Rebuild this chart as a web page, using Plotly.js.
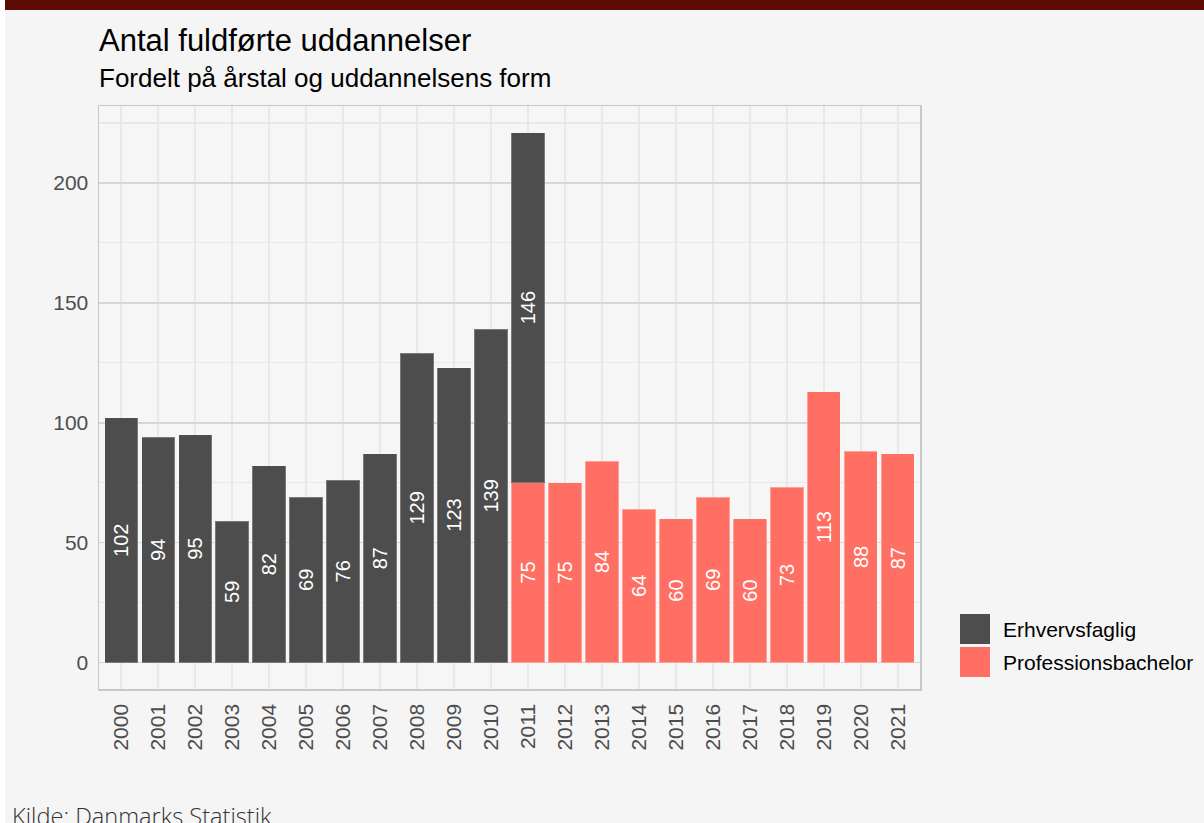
<!DOCTYPE html>
<html>
<head>
<meta charset="utf-8">
<script src="https://cdn.plot.ly/plotly-3.0.1.min.js"></script>
<style>
html,body{margin:0;padding:0;background:#ffffff;}
#chart{position:absolute;left:5px;top:0;width:1199px;height:823px;}
</style>
</head>
<body>
<div id="chart"></div>
<script>
const years = ['2000','2001','2002','2003','2004','2005','2006','2007','2008','2009','2010','2011','2012','2013','2014','2015','2016','2017','2018','2019','2020','2021'];
const erhvYears = ['2000','2001','2002','2003','2004','2005','2006','2007','2008','2009','2010','2011'];
const erhvValues = [102,94,95,59,82,69,76,87,129,123,139,146];
const profYears = ['2011','2012','2013','2014','2015','2016','2017','2018','2019','2020','2021'];
const profValues = [75,75,84,64,60,69,60,73,113,88,87];
const seriesNames = ['Erhvervsfaglig','Professionsbachelor'];
const seriesColors = ['#4d4d4d','#FF6F63'];
const yTicks = [0,50,100,150,200];

const FONT = 'Liberation Sans, Arial, sans-serif';

const traces = [
  {
    type:'bar', name:seriesNames[1], x:profYears, y:profValues,
    marker:{color:seriesColors[1], line:{color:'rgba(255,255,255,0.35)', width:1}}, width:0.9,
    text:profValues.map(String), textposition:'inside', insidetextanchor:'middle',
    textangle:-90, textfont:{color:'#ffffff', size:20, family:FONT},
    constraintext:'none', hoverinfo:'x+y+name'
  },
  {
    type:'bar', name:seriesNames[0], x:erhvYears, y:erhvValues,
    marker:{color:seriesColors[0], line:{color:'rgba(255,255,255,0.25)', width:1}}, width:0.9,
    text:erhvValues.map(String), textposition:'inside', insidetextanchor:'middle',
    textangle:-90, textfont:{color:'#ffffff', size:20, family:FONT},
    constraintext:'none', hoverinfo:'x+y+name'
  }
];

// custom legend (positions in paper coords)
const legendItems = [
  {name:seriesNames[0], color:seriesColors[0], y0:0.0772, y1:0.1286, ty:0.1029},
  {name:seriesNames[1], color:seriesColors[1], y0:0.0206, y1:0.0720, ty:0.0463}
];

const shapes = [
  {type:'rect', xref:'paper', yref:'paper', x0:-1, x1:2, y0:1.1647, y1:1.4, fillcolor:'#5e0a05', line:{width:0}, layer:'above'}
];
const annotations = [
  {xref:'paper', yref:'paper', x:-0.003, y:1.1115, xanchor:'left', yanchor:'middle', showarrow:false,
   text:'Antal fuldførte uddannelser', font:{family:FONT, size:31, color:'#000000'}},
  {xref:'paper', yref:'paper', x:-0.003, y:1.048, xanchor:'left', yanchor:'middle', showarrow:false,
   text:'Fordelt på årstal og uddannelsens form', font:{family:FONT, size:26, color:'#000000'}},
  {xref:'paper', yref:'paper', x:-0.109, y:-0.218, xanchor:'left', yanchor:'middle', showarrow:false,
   text:'Kilde: Danmarks Statistik', font:{family:'Open Sans, sans-serif', size:23.6, color:'#333333', weight:300}}
];
legendItems.forEach(it => {
  shapes.push({type:'rect', xref:'paper', yref:'paper', x0:1.0487, x1:1.0853, y0:it.y0, y1:it.y1,
    fillcolor:it.color, line:{width:0}});
  annotations.push({xref:'paper', yref:'paper', x:1.0987, y:it.ty, xanchor:'left', yanchor:'middle',
    showarrow:false, text:it.name, font:{family:FONT, size:21, color:'#000000'}});
});

const layout = {
  width:1199, height:823,
  margin:{l:94, r:284, t:106, b:134, pad:0},
  paper_bgcolor:'#f5f5f5', plot_bgcolor:'#f6f6f6',
  barmode:'stack', bargap:0.1, showlegend:false,
  font:{family:FONT},
  xaxis:{
    type:'category', categoryorder:'array', categoryarray:years,
    range:[-0.6, years.length-0.4],
    tickangle:-90, tickfont:{size:21, color:'#4d4d4d', family:FONT},
    showgrid:true, gridcolor:'#e8e8e8', gridwidth:1.5,
    ticks:'outside', ticklen:5, tickcolor:'rgba(0,0,0,0)', tickwidth:1,
    showline:true, mirror:true, linecolor:'#c8c8c8', linewidth:1.5,
    zeroline:false, fixedrange:true
  },
  yaxis:{
    range:[-11.05, 232.05], tickvals:yTicks, ticktext:yTicks.map(String),
    tickfont:{size:21, color:'#4d4d4d', family:FONT},
    showgrid:true, gridcolor:'#d6d6d6', gridwidth:1.8,
    minor:{dtick:25, tick0:25, showgrid:true, gridcolor:'#e8e8e8', gridwidth:1.2},
    ticks:'outside', ticklen:5, tickcolor:'rgba(0,0,0,0)', tickwidth:1,
    showline:true, mirror:true, linecolor:'#c8c8c8', linewidth:1.5,
    zeroline:false, fixedrange:true
  },
  shapes:shapes,
  annotations:annotations
};

Plotly.newPlot('chart', traces, layout, {displayModeBar:false, staticPlot:true});
</script>
</body>
</html>
